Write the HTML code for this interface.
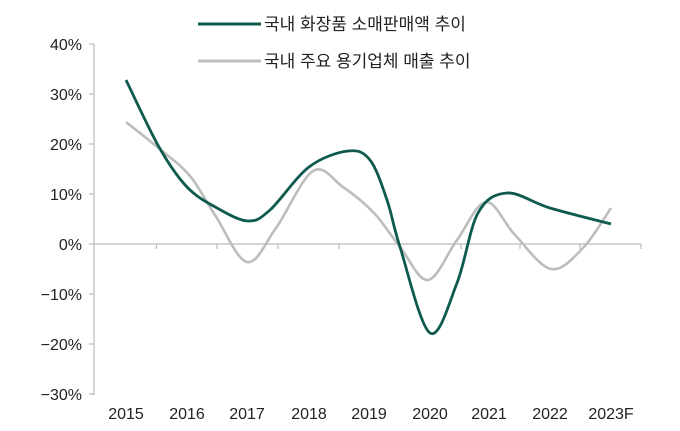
<!DOCTYPE html>
<html><head><meta charset="utf-8"><style>
html,body{margin:0;padding:0;background:#fff;width:680px;height:431px;overflow:hidden}
svg text{font-family:"Liberation Sans","Noto Sans CJK KR",sans-serif;fill:#222}
</style></head><body>
<svg id="s" width="680" height="431" viewBox="0 0 680 431">
<line x1="94" y1="44" x2="94" y2="395" stroke="#bbb" stroke-width="1.2"/>
<line x1="94" y1="244" x2="641" y2="244" stroke="#bbb" stroke-width="1.2"/>
<g stroke="#bbb" stroke-width="1.2">
<line x1="89" y1="44" x2="94" y2="44"/><line x1="89" y1="94" x2="94" y2="94"/><line x1="89" y1="144" x2="94" y2="144"/><line x1="89" y1="194" x2="94" y2="194"/><line x1="89" y1="244" x2="94" y2="244"/><line x1="89" y1="294" x2="94" y2="294"/><line x1="89" y1="344" x2="94" y2="344"/><line x1="89" y1="394" x2="94" y2="394"/>
<line x1="156.5" y1="244" x2="156.5" y2="249"/><line x1="217" y1="244" x2="217" y2="249"/><line x1="278" y1="244" x2="278" y2="249"/><line x1="339" y1="244" x2="339" y2="249"/><line x1="400" y1="244" x2="400" y2="249"/><line x1="461" y1="244" x2="461" y2="249"/><line x1="520" y1="244" x2="520" y2="249"/><line x1="580" y1="244" x2="580" y2="249"/><line x1="641" y1="244" x2="641" y2="249"/>
</g>
<g font-size="16" text-anchor="end">
<text x="82" y="50">40%</text><text x="82" y="100">30%</text><text x="82" y="150">20%</text><text x="82" y="200">10%</text><text x="82" y="250">0%</text><text x="82" y="300">−10%</text><text x="82" y="350">−20%</text><text x="82" y="400">−30%</text>
</g>
<g font-size="16" text-anchor="middle">
<text x="126" y="419">2015</text><text x="187" y="419">2016</text><text x="247" y="419">2017</text><text x="309" y="419">2018</text><text x="369" y="419">2019</text><text x="430" y="419">2020</text><text x="489" y="419">2021</text><text x="550" y="419">2022</text><text x="611" y="419">2023F</text>
</g>
<line x1="198" y1="24" x2="261" y2="24" stroke="#0f5a4e" stroke-width="3"/>
<text x="264" y="30" font-size="17">국내 화장품 소매판매액 추이</text>
<line x1="198" y1="61" x2="261" y2="61" stroke="#bdbdbd" stroke-width="3"/>
<text x="264" y="67" font-size="17">국내 주요 용기업체 매출 추이</text>
<path id="g2" fill="none" stroke="#bdbdbd" stroke-width="2.6"/>
<path id="g1" fill="none" stroke="#0f5a4e" stroke-width="2.8"/>
</svg>
<script>
function cr(p){var d="M"+p[0][0]+","+p[0][1];for(var i=0;i<p.length-1;i++){var a=p[i-1]||p[i],b=p[i],c=p[i+1],e=p[i+2]||c;d+=" C"+(b[0]+(c[0]-a[0])/6)+","+(b[1]+(c[1]-a[1])/6)+" "+(c[0]-(e[0]-b[0])/6)+","+(c[1]-(e[1]-b[1])/6)+" "+c[0]+","+c[1];}return d;}
var G=[[126,80],[159,147],[187,187],[217,208],[248,221],[270,210],[309,167],[348,151],[370,160],[387,200],[400,247],[430,333],[457,283],[478,213],[507,193],[550,208],[611,224]];
var Y=[[126,122],[161,150],[190,176],[215,215],[247,262],[276,228],[313,171],[343,187],[374,213],[400,247],[428,280],[457,240],[486,202],[515,235],[551,269],[583,248],[611,208]];
document.getElementById("g1").setAttribute("d",cr(G));
document.getElementById("g2").setAttribute("d",cr(Y));
</script>
</body></html>
